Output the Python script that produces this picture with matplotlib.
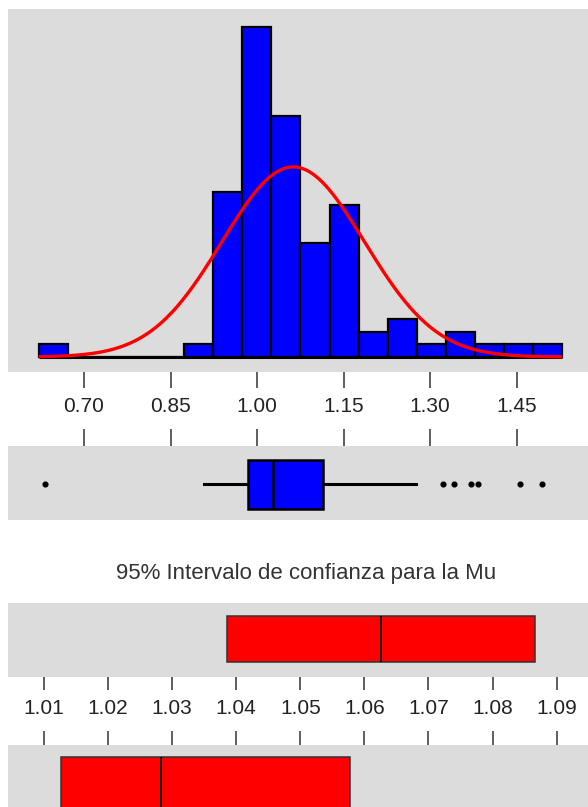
import numpy as np
import matplotlib
matplotlib.use("Agg")
import matplotlib.pyplot as plt

# histogram (counts per bin)
bin_start = 0.6215
bin_width = 0.0504
counts = [1, 0, 0, 0, 0, 1, 13, 26, 19, 9, 12, 2, 3, 1, 2, 1, 1, 1]

# fitted normal curve
mean_fit = 1.0626
sd_fit = 0.1235

# boxplot summary
q1, med, q3 = 0.9848, 1.0281, 1.1147
whis_lo, whis_hi = 0.908, 1.2754
outliers = [0.6324, 1.3227, 1.3412, 1.3707, 1.3834, 1.4556, 1.4932]

hist_ticks = [0.70, 0.85, 1.00, 1.15, 1.30, 1.45]
hist_ticklabels = ["0.70", "0.85", "1.00", "1.15", "1.30", "1.45"]

# 95% confidence intervals
mu_ci = (1.0385, 1.0866)
mu_hat = 1.0626
med_ci = (1.0126, 1.0577)
med_hat = 1.0283
ci_ticks = [1.01, 1.02, 1.03, 1.04, 1.05, 1.06, 1.07, 1.08, 1.09]
ci_ticklabels = ["1.01", "1.02", "1.03", "1.04", "1.05", "1.06", "1.07", "1.08", "1.09"]

title = "95% Intervalo de confianza para la Mu"

GRAY = "#dcdcdc"
BLUE = "#0000ff"
RED = "#ff0000"
sans = ["Liberation Sans", "DejaVu Sans"]

W, H = 588, 807
fig = plt.figure(figsize=(W / 100, H / 100), dpi=100)


def rect(top, bottom, left=8, right=588):
    return [left / W, 1 - bottom / H, (right - left) / W, (bottom - top) / H]


def strip(ax):
    ax.set_facecolor(GRAY)
    for s in ax.spines.values():
        s.set_visible(False)
    ax.set_yticks([])


# --- histogram ---
ax1 = fig.add_axes(rect(9, 371.7))
strip(ax1)
edges = bin_start + bin_width * np.arange(len(counts) + 1)
centers = (edges[:-1] + edges[1:]) / 2
ax1.bar(centers, counts, width=bin_width, color=BLUE, edgecolor="black", linewidth=1.6)
ax1.hlines(0, edges[0], edges[-1], color="black", linewidth=2.2)
xs = np.linspace(edges[0], edges[-1], 300)
n = sum(counts)
pdf = n * bin_width / (sd_fit * np.sqrt(2 * np.pi)) * np.exp(-0.5 * ((xs - mean_fit) / sd_fit) ** 2)
ax1.plot(xs, pdf, color=RED, linewidth=2.4, solid_capstyle="butt")
ax1.set_xlim(0.5683, 1.5735)
ax1.set_ylim(-1.158, 27.42)
ax1.set_xticks(hist_ticks)
ax1.set_xticklabels(hist_ticklabels, family=sans, fontsize=15, color="#222222")
ax1.tick_params(axis="x", direction="out", length=11.5, width=1.1, color="#333333", pad=7)

# --- boxplot ---
ax2 = fig.add_axes(rect(446, 520))
strip(ax2)
stats = [dict(med=med, q1=q1, q3=q3, whislo=whis_lo, whishi=whis_hi, fliers=outliers)]
ax2.bxp(stats, positions=[0.48], widths=0.67, vert=False, showcaps=False, patch_artist=True,
        manage_ticks=False,
        boxprops=dict(facecolor=BLUE, edgecolor="black", linewidth=1.8),
        medianprops=dict(color="black", linewidth=1.8),
        whiskerprops=dict(color="black", linewidth=2.2),
        flierprops=dict(marker="o", markersize=3.4, markerfacecolor="black", markeredgecolor="black"))
ax2.set_xlim(ax1.get_xlim())
ax2.set_ylim(0, 1)
ax2.set_yticks([])
ax2.set_xticks(hist_ticks)
ax2.xaxis.set_ticks_position("top")
ax2.tick_params(axis="x", direction="out", length=12, width=1.1, color="#333333", labeltop=False, labelbottom=False)

# --- title ---
fig.text(305.6 / W, 1 - 573 / H, title, ha="center", va="center", fontsize=16,
         family=sans, color="#333333")

# --- CI for mu ---
ax3 = fig.add_axes(rect(602.7, 677.3))
strip(ax3)
ax3.barh(0.515, mu_ci[1] - mu_ci[0], left=mu_ci[0], height=0.613, color=RED, edgecolor="#333333", linewidth=1.1)
ax3.vlines(mu_hat, 0.515 - 0.3065, 0.515 + 0.3065, color="black", linewidth=1.3)
ax3.set_xlim(1.00438, 1.0949)
ax3.set_ylim(0, 1)
ax3.set_xticks(ci_ticks)
ax3.set_xticklabels(ci_ticklabels, family=sans, fontsize=15, color="#222222")
ax3.tick_params(axis="x", direction="out", length=9.5, width=1.1, color="#333333", pad=6)

# --- CI for median ---
ax4 = fig.add_axes(rect(745, 820))
strip(ax4)
ax4.barh(0.43, med_ci[1] - med_ci[0], left=med_ci[0], height=0.83, color=RED, edgecolor="#333333", linewidth=1.1)
ax4.vlines(med_hat, 0.43 - 0.415, 0.43 + 0.415, color="black", linewidth=1.3)
ax4.set_xlim(ax3.get_xlim())
ax4.set_ylim(0, 1)
ax4.set_xticks(ci_ticks)
ax4.xaxis.set_ticks_position("top")
ax4.tick_params(axis="x", direction="out", length=10, width=1.1, color="#333333", labeltop=False, labelbottom=False)

fig.savefig("out.png", dpi=100, facecolor="white")
